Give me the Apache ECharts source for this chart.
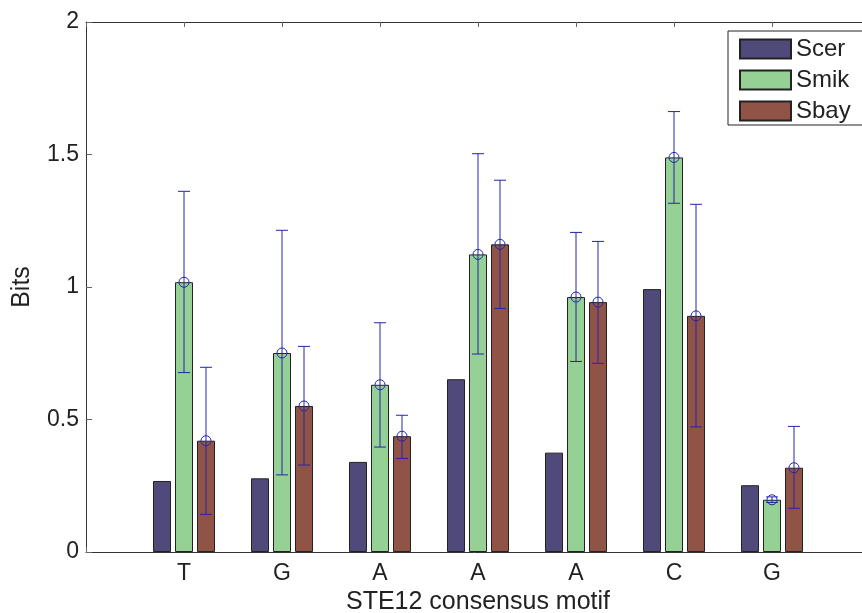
<!DOCTYPE html>
<html>
<head>
<meta charset="utf-8">
<script src="https://cdn.jsdelivr.net/npm/echarts@6/dist/echarts.min.js"></script>
<style>
  html, body { margin: 0; padding: 0; background: #fff; }
  #chart { width: 862px; height: 613px; }
</style>
</head>
<body>
<div id="chart"></div>
<script>
// STE12 motif positions
const motif = ['T', 'G', 'A', 'A', 'A', 'C', 'G']
const yTicks = [0, 0.5, 1, 1.5, 2]

const scer = [0.268, 0.278, 0.340, 0.652, 0.375, 0.992, 0.252]
const smik = [1.018, 0.751, 0.631, 1.123, 0.962, 1.489, 0.197]
const sbay = [0.420, 0.551, 0.437, 1.161, 0.943, 0.891, 0.318]

// error bar ends
const smikLow = [0.677, 0.291, 0.396, 0.747, 0.719, 1.316, 0.187]
const smikHigh = [1.361, 1.214, 0.865, 1.503, 1.206, 1.662, 0.208]
const sbayLow = [0.142, 0.328, 0.353, 0.919, 0.712, 0.472, 0.165]
const sbayHigh = [0.697, 0.776, 0.516, 1.403, 1.172, 1.312, 0.474]

const FONT = '"Liberation Sans", Arial, Helvetica, sans-serif'
const TEXT = '#222'
const AXIS = '#333'
const ERR = '#2424ad'
const BAR_W = 18
const BAR_GAP = 4

// pad with an empty slot on both ends so ticks sit at 1..7 of a 0..8 range
const cats = [''].concat(motif, [''])
const pad = (arr) => [null].concat(arr, [null])

function errSeries(mean, low, high, offset) {
  const data = mean.map((m, i) => [i + 1, m, low[i], high[i]])
  return {
    type: 'custom',
    z: 5,
    silent: true,
    data: data,
    renderItem: (params, api) => {
      const i = api.value(0)
      const pm = api.coord([i, api.value(1)])
      const pl = api.coord([i, api.value(2)])
      const ph = api.coord([i, api.value(3)])
      const x = pm[0] + offset
      const st = { stroke: ERR, lineWidth: 1, fill: null }
      return {
        type: 'group',
        children: [
          { type: 'line', shape: { x1: x, y1: pl[1], x2: x, y2: ph[1] }, style: st },
          { type: 'line', shape: { x1: x - 6, y1: pl[1], x2: x + 6, y2: pl[1] }, style: st },
          { type: 'line', shape: { x1: x - 6, y1: ph[1], x2: x + 6, y2: ph[1] }, style: st },
          { type: 'circle', shape: { cx: x, cy: pm[1], r: 5 }, style: st },
        ],
      }
    },
  }
}

const chart = echarts.init(document.getElementById('chart'))

chart.setOption({
  animation: false,
  textStyle: { fontFamily: FONT },
  grid: { left: 86, top: 22, width: 784, height: 530, outerBoundsMode: 'none', containLabel: false },
  legend: {
    data: ['Scer', 'Smik', 'Sbay'],
    orient: 'vertical',
    left: 728,
    top: 31,
    padding: [6, 60, 2, 11],
    itemWidth: 51,
    itemHeight: 19,
    itemGap: 7,
    icon: 'rect',
    borderColor: '#222',
    borderWidth: 1,
    backgroundColor: '#fff',
    textStyle: { fontSize: 24, color: TEXT, fontFamily: FONT, lineHeight: 23 },
  },
  xAxis: [
    {
      type: 'category',
      data: cats,
      boundaryGap: false,
      name: 'STE12 consensus motif',
      nameLocation: 'middle',
      nameGap: 38,
      nameTextStyle: { fontSize: 25, color: TEXT, fontFamily: FONT },
      axisLine: { lineStyle: { color: AXIS, width: 1 } },
      axisTick: { inside: true, length: 5, lineStyle: { color: '#666' } },
      axisLabel: { fontSize: 23, color: TEXT, margin: 10, fontFamily: FONT },
      splitLine: { show: false },
    },
    {
      type: 'category',
      data: cats,
      position: 'top',
      boundaryGap: false,
      axisLine: { lineStyle: { color: AXIS, width: 1 } },
      axisTick: { inside: true, length: 5, lineStyle: { color: '#666' } },
      axisLabel: { show: false },
      splitLine: { show: false },
    },
  ],
  yAxis: {
    type: 'value',
    min: yTicks[0],
    max: yTicks[yTicks.length - 1],
    interval: 0.5,
    name: 'Bits',
    nameLocation: 'middle',
    nameGap: 51,
    nameTextStyle: { fontSize: 25, color: TEXT, fontFamily: FONT },
    axisLine: { show: true, lineStyle: { color: AXIS, width: 1 } },
    axisTick: { show: true, inside: true, length: 6, lineStyle: { color: '#666' } },
    axisLabel: { fontSize: 23, color: TEXT, margin: 7, fontFamily: FONT },
    splitLine: { show: false },
  },
  series: [
    {
      name: 'Scer',
      type: 'bar',
      data: pad(scer),
      barWidth: BAR_W,
      barGap: (BAR_GAP / BAR_W * 100) + '%',
      itemStyle: { color: '#4f4a7a', borderColor: '#222', borderWidth: 1 },
    },
    {
      name: 'Smik',
      type: 'bar',
      data: pad(smik),
      barWidth: BAR_W,
      barGap: (BAR_GAP / BAR_W * 100) + '%',
      itemStyle: { color: '#95d095', borderColor: '#222', borderWidth: 1 },
    },
    {
      name: 'Sbay',
      type: 'bar',
      data: pad(sbay),
      barWidth: BAR_W,
      barGap: (BAR_GAP / BAR_W * 100) + '%',
      itemStyle: { color: '#8f5445', borderColor: '#222', borderWidth: 1 },
    },
    errSeries(smik, smikLow, smikHigh, 0),
    errSeries(sbay, sbayLow, sbayHigh, BAR_W + BAR_GAP),
  ],
})
</script>
</body>
</html>
